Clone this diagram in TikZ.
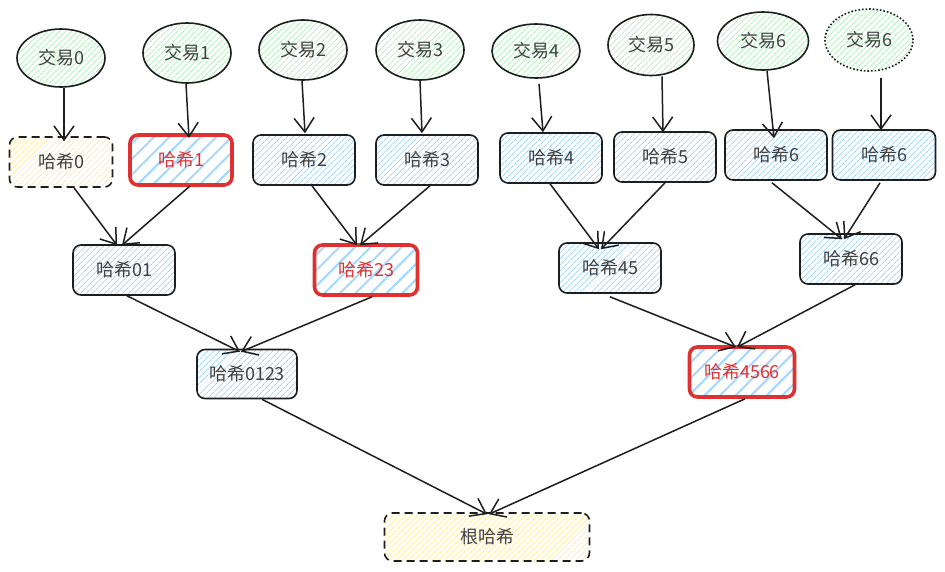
\documentclass[tikz,border=0pt]{standalone}
\usepackage{fontspec}
\setmainfont{Noto Sans CJK SC}
\usetikzlibrary{shapes.geometric,arrows.meta,patterns.meta}
\definecolor{ink}{HTML}{1E1E1E}
\definecolor{hgreen}{HTML}{B2F2BB}
\definecolor{hblue}{HTML}{A5D8FF}
\definecolor{hyellow}{HTML}{FFEC99}
\definecolor{hred}{HTML}{E03131}
\tikzset{
  base/.style={inner sep=0pt, font=\fontsize{18}{21}\selectfont, text=ink!85, draw=ink, line width=1.6pt},
  tx/.style={base, ellipse, minimum width=88pt, minimum height=58pt,
    pattern={Lines[angle=45,distance=4pt,line width=1pt]}, pattern color=hgreen},
  hb/.style={base, rectangle, rounded corners=8pt, minimum width=102pt, minimum height=50pt,
    pattern={Lines[angle=45,distance=4pt,line width=1pt]}, pattern color=hblue},
  hy/.style={hb, dashed, dash pattern=on 8pt off 5pt, pattern color=hyellow},
  hr/.style={hb, draw=hred, line width=3.6pt, text=hred,
    pattern={Lines[angle=45,distance=11pt,line width=2pt]}, pattern color=hblue},
  arr/.style={draw=ink, line width=1.5pt, -{Straight Barb[length=14pt,width=20pt,line width=1.5pt]}}
}
\begin{document}
\begin{tikzpicture}[x=1pt,y=-1pt]
\fill[white] (0,0) rectangle (945,571);
\useasboundingbox (0,0) rectangle (945,571);
% transactions
\node[tx] (t0) at (61,58) {交易0};
\node[tx, minimum height=60pt] (t1) at (187,53) {交易1};
\node[tx, minimum height=60pt] (t2) at (303,50) {交易2};
\node[tx, minimum height=60pt] (t3) at (420,50) {交易3};
\node[tx, minimum height=54pt] (t4) at (536,51) {交易4};
\node[tx, minimum width=86pt, minimum height=61pt] (t5) at (651,45) {交易5};
\node[tx, minimum width=91pt] (t6) at (763,41) {交易6};
\node[tx, dotted, line width=1.6pt, minimum height=62pt] (t6b) at (869,40) {交易6};
% leaf hashes
\node[hy, minimum width=103pt] (h0) at (61,162) {哈希0};
\node[hr] (h1) at (181,160) {哈希1};
\node[hb] (h2) at (304,160) {哈希2};
\node[hb] (h3) at (427,160) {哈希3};
\node[hb] (h4) at (551,158) {哈希4};
\node[hb] (h5) at (665,157) {哈希5};
\node[hb] (h6) at (776,155) {哈希6};
\node[hb, minimum width=103pt] (h6b) at (884,155) {哈希6};
% level 2
\node[hb] (h01) at (124,270) {哈希01};
\node[hr, minimum width=103pt] (h23) at (366,270) {哈希23};
\node[hb] (h45) at (610,268) {哈希45};
\node[hb] (h66) at (851,259) {哈希66};
% level 3
\node[hb, minimum width=100pt, minimum height=49pt] (h0123) at (247,374) {哈希0123};
\node[hr, minimum width=105pt] (h4566) at (742,372) {哈希4566};
% root
\node[hy, minimum width=205pt, minimum height=48pt] (root) at (487,537) {根哈希};
% arrows tx -> hash
\draw[arr] ([xshift=3pt]t0.south) -- ([xshift=3pt,yshift=-5pt]h0.north);
\draw[arr] ([xshift=-1pt]t1.south) -- ([xshift=8pt,yshift=-4pt]h1.north);
\draw[arr] ([xshift=-1pt]t2.south) -- ([xshift=1pt,yshift=1pt]h2.north);
\draw[arr] ([xshift=0pt]t3.south) -- ([xshift=-5pt,yshift=1pt]h3.north);
\draw[arr] ([xshift=3pt,yshift=-5pt]t4.south) -- ([xshift=-8pt,yshift=0pt]h4.north);
\draw[arr] ([xshift=11pt]t5.south) -- ([xshift=-2pt,yshift=-1pt]h5.north);
\draw[arr] ([xshift=4pt]t6.south) -- ([xshift=-2pt,yshift=-9pt]h6.north);
\draw[arr] ([xshift=12pt,yshift=-6pt]t6b.south) -- ([xshift=-3pt,yshift=-1pt]h6b.north);
% arrows hash -> level 2
\draw[arr] ([xshift=13pt]h0.south) -- ([xshift=-7pt,yshift=-1pt]h01.north);
\draw[arr] ([xshift=9pt]h1.south) -- ([xshift=-2pt,yshift=-1pt]h01.north);
\draw[arr] ([xshift=8pt]h2.south) -- ([xshift=-9pt,yshift=-2pt]h23.north);
\draw[arr] ([xshift=3pt]h3.south) -- ([xshift=-6pt,yshift=-2pt]h23.north);
\draw[arr] ([xshift=-1pt]h4.south) -- ([xshift=-11pt,yshift=-7pt]h45.north);
\draw[arr] ([xshift=0pt]h5.south) -- ([xshift=-9pt,yshift=-7pt]h45.north);
\draw[arr] ([xshift=-4pt,yshift=-2pt]h6.south) -- ([xshift=-9pt,yshift=-6pt]h66.north);
\draw[arr] ([xshift=-4pt,yshift=-2pt]h6b.south) -- ([xshift=-7pt,yshift=-6pt]h66.north);
% arrows level 2 -> level 3
\draw[arr] ([xshift=3pt]h01.south) -- ([xshift=-7pt,yshift=-3pt]h0123.north);
\draw[arr] ([xshift=6pt]h23.south) -- ([xshift=-6pt,yshift=-3pt]h0123.north);
\draw[arr] ([yshift=-3pt]h45.south) -- ([xshift=-6pt,yshift=-2pt]h4566.north);
\draw[arr] ([xshift=4pt]h66.south) -- ([xshift=-5pt,yshift=-2pt]h4566.north);
% arrows level 3 -> root
\draw[arr] ([xshift=15pt]h0123.south) -- ([xshift=0pt,yshift=-2pt]root.north);
\draw[arr] ([xshift=3pt]h4566.south) -- ([xshift=2pt,yshift=-2pt]root.north);
\end{tikzpicture}
\end{document}
